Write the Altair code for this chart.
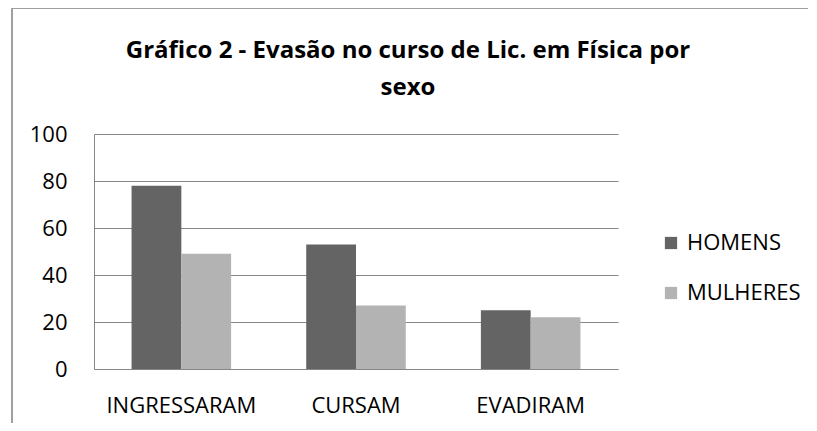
import altair as alt
import pandas as pd

categories = ["INGRESSARAM", "CURSAM", "EVADIRAM"]
series = ["HOMENS", "MULHERES"]
homens = [78, 53, 25]
mulheres = [49, 27, 22]
colors = ["#646464", "#B3B3B3"]

rows = []
for c, h, m in zip(categories, homens, mulheres):
    rows.append({"cat": c, "sexo": "HOMENS", "v": h})
    rows.append({"cat": c, "sexo": "MULHERES", "v": m})
df = pd.DataFrame(rows)

FONT = "Open Sans"
LFS = 22

bars = alt.Chart(df).mark_bar().encode(
    x=alt.X("cat:N", sort=categories, title=None,
            scale=alt.Scale(paddingInner=0.43, paddingOuter=0.215),
            axis=alt.Axis(labelAngle=0, labelFontSize=LFS, labelPadding=26, ticks=False,
                          domainColor="#868686", labelColor="#000000", labelFont=FONT)),
    xOffset=alt.XOffset("sexo:N", sort=series),
    y=alt.Y("v:Q", title=None,
            scale=alt.Scale(domain=[0, 100]),
            axis=alt.Axis(values=[0, 20, 40, 60, 80, 100], labelFontSize=LFS, labelPadding=27,
                          ticks=False, gridColor="#868686", domainColor="#868686",
                          labelColor="#000000", labelFont=FONT)),
    color=alt.Color("sexo:N", sort=series, scale=alt.Scale(domain=series, range=colors),
                    legend=alt.Legend(title=None, orient="none", legendX=566, legendY=98,
                                      symbolType="square", symbolSize=150, symbolStrokeWidth=0,
                                      labelFontSize=LFS, labelFont=FONT, labelColor="#000000",
                                      rowPadding=28, labelOffset=5)),
)

frame_left = alt.Chart(df).mark_rule(color="#A0A0A0", strokeWidth=1.5).encode(
    x=alt.value(-82), y=alt.value(-126), y2=alt.value(300))
frame_top = alt.Chart(df).mark_rule(color="#A0A0A0", strokeWidth=1.5).encode(
    x=alt.value(-82), x2=alt.value(720), y=alt.value(-126))

chart = alt.layer(frame_left, frame_top, bars).properties(
    width=524, height=235,
    title=alt.TitleParams(
        text=["Gráfico 2 - Evasão no curso de Lic. em Física por", "sexo"],
        fontSize=24, font=FONT, fontWeight="bold", color="#000000",
        anchor="middle", dx=52, offset=-93, lineHeight=37),
    autosize="none",
    padding={"left": 86, "top": 126, "right": 190, "bottom": 54},
).configure_view(stroke=None)

chart.save("out.html", embed_options={"renderer": "svg", "actions": False})
